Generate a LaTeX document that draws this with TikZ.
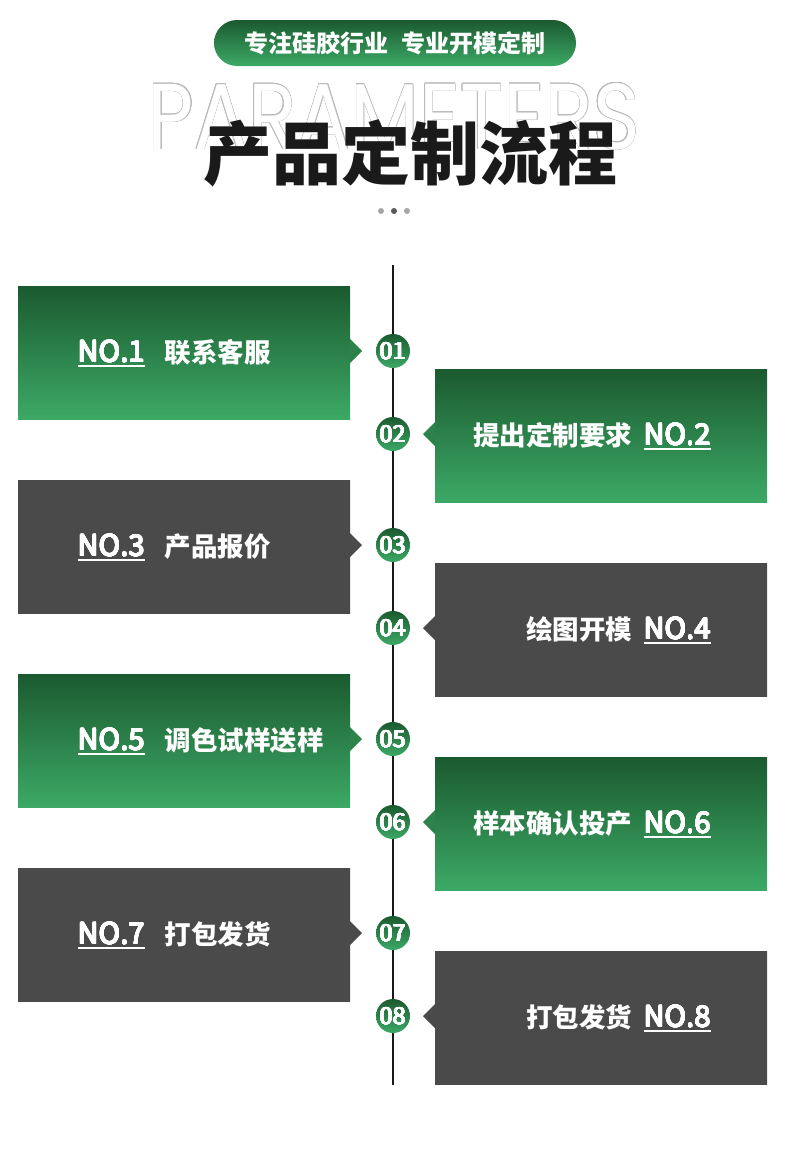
\documentclass[tikz,border=0pt]{standalone}
\usepackage{fontspec}
\setmainfont{Noto Sans CJK SC}
\newfontfamily\popfont{Poppins}
\usepackage{contour}
\contourlength{0.5pt}
\definecolor{gtop}{HTML}{1B5A2F}
\definecolor{gbot}{HTML}{3CA966}
\definecolor{kbox}{HTML}{4A4A4A}
\definecolor{titlek}{HTML}{1A1A1A}
\newsavebox\nobox
\newcommand\medw[1]{{\contourlength{0.35pt}\contour{white}{#1}}}
\newcommand\numw[1]{{\contourlength{0.25pt}\contour{white}{#1}}}
\newcommand\nol[1]{\sbox\nobox{#1}\rlap{\rule[-4.5pt]{\wd\nobox}{1.6pt}}\medw{#1}}
\begin{document}
\begin{tikzpicture}[x=1pt,y=-1pt,
  box/.style={rectangle, minimum width=332pt, minimum height=133pt, inner sep=0pt, draw=none},
  numc/.style={circle, minimum size=34pt, inner sep=0pt, top color=gtop, bottom color=gbot, text=white, font=\mdseries\fontsize{23.5}{23.5}\selectfont},
  lbl/.style={inner sep=0pt, text=white, font=\bfseries\fontsize{26.5}{26.5}\selectfont},
  dotc/.style={circle, minimum size=6pt, inner sep=0pt}]
\fill[white] (0,0) rectangle (790,1175);
\useasboundingbox (0,0) rectangle (790,1175);
% header pill
\node[top color=gtop, bottom color=gbot, rounded corners=23pt, minimum width=362pt, minimum height=46pt, inner sep=0pt, text=white, font=\bfseries\fontsize{24}{24}\selectfont] (hdr) at (395,43) {专注硅胶行业\hspace{14pt}专业开模定制};
% outline word
\node[inner sep=0pt, text=white] (bgword) at (394,117) {\resizebox{492pt}{66pt}{\popfont\fontsize{80}{80}\selectfont\contour{black!27}{PARAMETERS}}};
% title
\node[inner sep=0pt, text=titlek, font=\bfseries\fontsize{69}{69}\selectfont] (title) at (410,153) {产品定制流程};
% dots
\node[dotc, fill=black!35] (dot1) at (381,211) {};
\node[dotc, fill=black!65] (dot2) at (394,211) {};
\node[dotc, fill=black!35] (dot3) at (407,211) {};
% boxes left
\foreach \n/\cy/\tc/\bc/\lab in {1/351/gtop/gbot/联系客服, 3/545/kbox/kbox/产品报价, 5/739/gtop/gbot/调色试样送样, 7/933/kbox/kbox/打包发货}{
  \node[box, top color=\tc, bottom color=\bc, anchor=north west] (box\n) at (18,\cy-65) {};
  \fill[\tc!50!\bc] (350,\cy) ++(0,-12) -- ++(12,12) -- ++(-12,12) -- cycle;
  \node[lbl, anchor=base west] (t\n) at (78,\cy+11) {{\mdseries\fontsize{29}{29}\selectfont\nol{NO.\n}}\hspace{20pt}\lab};
}
% boxes right
\foreach \n/\cy/\tc/\bc/\lab in {2/434/gtop/gbot/提出定制要求, 4/628/kbox/kbox/绘图开模, 6/822/gtop/gbot/样本确认投产, 8/1016/kbox/kbox/打包发货}{
  \node[box, top color=\tc, bottom color=\bc, anchor=north west] (box\n) at (435,\cy-65) {};
  \fill[\tc!50!\bc] (435,\cy) ++(0,-12) -- ++(-12,12) -- ++(12,12) -- cycle;
  \node[lbl, anchor=base east] (t\n) at (711,\cy+11) {\lab\hspace{12pt}{\mdseries\fontsize{29}{29}\selectfont\nol{NO.\n}}};
}
% timeline
\coordinate (ltop) at (393,265);
\coordinate (lbot) at (393,1085);
\draw[line width=1.8pt, black!90] (ltop) -- (lbot);
\foreach \n/\cy in {1/351,2/434,3/545,4/628,5/739,6/822,7/933,8/1016}{
  \node[numc] (c\n) at (393,\cy) {\numw{0\n}};
}
\end{tikzpicture}
\end{document}
